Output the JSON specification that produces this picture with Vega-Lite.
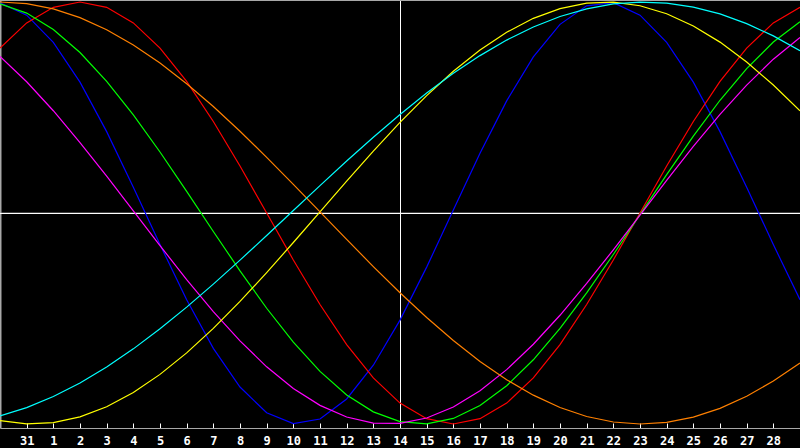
{
  "$schema": "https://vega.github.io/schema/vega-lite/v6.json",
  "width": 800,
  "height": 428,
  "autosize": {"type": "none"},
  "padding": {"left": 0, "top": 0, "right": 0, "bottom": 20},
  "background": "#000000",
  "config": {
    "view": {"stroke": null},
    "axis": {"grid": false}
  },
  "data": {
    "values": [
      {"d": 0, "p23": 0.9966, "p28": 0.7818, "p33": 0.9909, "p38": 0.7424, "p43": -0.9844, "p48": 1.0, "p53": -0.9615},
      {"d": 1, "p23": 0.9376, "p28": 0.9010, "p33": 0.9474, "p38": 0.6221, "p43": -0.9995, "p48": 0.9921, "p53": -0.9222},
      {"d": 2, "p23": 0.8090, "p28": 0.9749, "p33": 0.8698, "p38": 0.4847, "p43": -0.9934, "p48": 0.9673, "p53": -0.8700},
      {"d": 3, "p23": 0.6202, "p28": 1.0, "p33": 0.7606, "p38": 0.3341, "p43": -0.9660, "p48": 0.9259, "p53": -0.8054},
      {"d": 4, "p23": 0.3857, "p28": 0.9749, "p33": 0.6240, "p38": 0.1745, "p43": -0.9180, "p48": 0.8686, "p53": -0.7298},
      {"d": 5, "p23": 0.1225, "p28": 0.9010, "p33": 0.4648, "p38": 0.0099, "p43": -0.8505, "p48": 0.7965, "p53": -0.6439},
      {"d": 6, "p23": -0.1497, "p28": 0.7818, "p33": 0.2890, "p38": -0.1547, "p43": -0.7649, "p48": 0.7108, "p53": -0.5489},
      {"d": 7, "p23": -0.4111, "p28": 0.6235, "p33": 0.1026, "p38": -0.3153, "p43": -0.6631, "p48": 0.6129, "p53": -0.4461},
      {"d": 8, "p23": -0.6417, "p28": 0.4339, "p33": -0.0875, "p38": -0.4672, "p43": -0.5469, "p48": 0.5045, "p53": -0.3371},
      {"d": 9, "p23": -0.8249, "p28": 0.2225, "p33": -0.2745, "p38": -0.6063, "p43": -0.4191, "p48": 0.3875, "p53": -0.2234},
      {"d": 10, "p23": -0.9468, "p28": 0.0, "p33": -0.4515, "p38": -0.7290, "p43": -0.2825, "p48": 0.2639, "p53": -0.1066},
      {"d": 11, "p23": -0.9985, "p28": -0.2225, "p33": -0.6122, "p38": -0.8318, "p43": -0.1399, "p48": 0.1357, "p53": 0.0119},
      {"d": 12, "p23": -0.9762, "p28": -0.4339, "p33": -0.7509, "p38": -0.9117, "p43": 0.0058, "p48": 0.0052, "p53": 0.1300},
      {"d": 13, "p23": -0.8814, "p28": -0.6235, "p33": -0.8622, "p38": -0.9669, "p43": 0.1514, "p48": -0.1253, "p53": 0.2463},
      {"d": 14, "p23": -0.7214, "p28": -0.7818, "p33": -0.9425, "p38": -0.9957, "p43": 0.2937, "p48": -0.2538, "p53": 0.3593},
      {"d": 15, "p23": -0.5077, "p28": -0.9010, "p33": -0.9887, "p38": -0.9974, "p43": 0.4297, "p48": -0.3778, "p53": 0.4672},
      {"d": 16, "p23": -0.2565, "p28": -0.9749, "p33": -0.9992, "p38": -0.9718, "p43": 0.5566, "p48": -0.4955, "p53": 0.5684},
      {"d": 17, "p23": 0.0138, "p28": -1.0, "p33": -0.9736, "p38": -0.9198, "p43": 0.6717, "p48": -0.6046, "p53": 0.6618},
      {"d": 18, "p23": 0.2830, "p28": -0.9749, "p33": -0.9128, "p38": -0.8426, "p43": 0.7722, "p48": -0.7034, "p53": 0.7459},
      {"d": 19, "p23": 0.5313, "p28": -0.9010, "p33": -0.8190, "p38": -0.7424, "p43": 0.8566, "p48": -0.7902, "p53": 0.8195},
      {"d": 20, "p23": 0.7402, "p28": -0.7818, "p33": -0.6957, "p38": -0.6221, "p43": 0.9226, "p48": -0.8634, "p53": 0.8814},
      {"d": 21, "p23": 0.8942, "p28": -0.6235, "p33": -0.5471, "p38": -0.4847, "p43": 0.9689, "p48": -0.9219, "p53": 0.9311},
      {"d": 22, "p23": 0.9818, "p28": -0.4339, "p33": -0.3786, "p38": -0.3341, "p43": 0.9946, "p48": -0.9646, "p53": 0.9677},
      {"d": 23, "p23": 0.9966, "p28": -0.2225, "p33": -0.1966, "p38": -0.1745, "p43": 0.9991, "p48": -0.9907, "p53": 0.9907},
      {"d": 24, "p23": 0.9376, "p28": 0.0, "p33": -0.0075, "p38": -0.0099, "p43": 0.9823, "p48": -1.0, "p53": 0.9998},
      {"d": 25, "p23": 0.8090, "p28": 0.2225, "p33": 0.1819, "p38": 0.1547, "p43": 0.9446, "p48": -0.9921, "p53": 0.9949},
      {"d": 26, "p23": 0.6202, "p28": 0.4339, "p33": 0.3647, "p38": 0.3153, "p43": 0.8867, "p48": -0.9673, "p53": 0.9760},
      {"d": 27, "p23": 0.3857, "p28": 0.6235, "p33": 0.5343, "p38": 0.4672, "p43": 0.8099, "p48": -0.9259, "p53": 0.9434},
      {"d": 28, "p23": 0.1225, "p28": 0.7818, "p33": 0.6845, "p38": 0.6063, "p43": 0.7157, "p48": -0.8686, "p53": 0.8977},
      {"d": 29, "p23": -0.1497, "p28": 0.9010, "p33": 0.8102, "p38": 0.7290, "p43": 0.6065, "p48": -0.7965, "p53": 0.8394},
      {"d": 30, "p23": -0.4111, "p28": 0.9749, "p33": 0.9064, "p38": 0.8318, "p43": 0.4843, "p48": -0.7108, "p53": 0.7691}
    ]
  },
  "layer": [
    {
      "mark": {"type": "rule", "color": "#ffffff", "strokeWidth": 1, "xOffset": 0.5},
      "encoding": {"x": {"datum": 15, "type": "quantitative"}}
    },
    {
      "mark": {"type": "rule", "color": "#ffffff", "strokeWidth": 1, "yOffset": 0.5},
      "encoding": {"y": {"datum": 0, "type": "quantitative"}}
    },
    {
      "mark": {"type": "rule", "color": "#a8a8a8", "strokeWidth": 2},
      "encoding": {"y": {"datum": 1.0095, "type": "quantitative"}}
    },
    {
      "transform": [
        {"fold": ["p23", "p28", "p33", "p38", "p43", "p48", "p53"], "as": ["cycle", "v"]}
      ],
      "mark": {"type": "line", "strokeWidth": 1.2, "interpolate": "linear"},
      "encoding": {
        "x": {
          "field": "d",
          "type": "quantitative",
          "scale": {"domain": [0, 30], "nice": false, "zero": false},
          "axis": {
            "title": null,
            "values": [1, 2, 3, 4, 5, 6, 7, 8, 9, 10, 11, 12, 13, 14, 15, 16, 17, 18, 19, 20, 21, 22, 23, 24, 25, 26, 27, 28, 29],
            "tickCount": 60,
            "labelExpr": "datum.value == 1 ? '31' : format(datum.value - 1, 'd')",
            "domainColor": "#a8a8a8",
            "domainWidth": 1,
            "tickColor": "#ffffff",
            "tickSize": -5,
            "labelPadding": 12,
            "labelColor": "#ffffff",
            "labelFont": "DejaVu Sans Mono",
            "labelFontWeight": "bold",
            "labelFontSize": 12,
            "labelOverlap": false,
            "labelFlush": false
          }
        },
        "y": {
          "field": "v",
          "type": "quantitative",
          "scale": {"domain": [-1.019, 1.0095], "nice": false, "zero": false},
          "axis": {
            "title": null,
            "labels": false,
            "ticks": false,
            "domainColor": "#a8a8a8",
            "domainWidth": 2
          }
        },
        "color": {
          "field": "cycle",
          "type": "nominal",
          "scale": {
            "domain": ["p23", "p28", "p33", "p38", "p43", "p48", "p53"],
            "range": ["#0000ff", "#ff0000", "#00ff00", "#ff00ff", "#ffff00", "#ff8000", "#00ffff"]
          },
          "legend": null
        }
      }
    }
  ]
}
